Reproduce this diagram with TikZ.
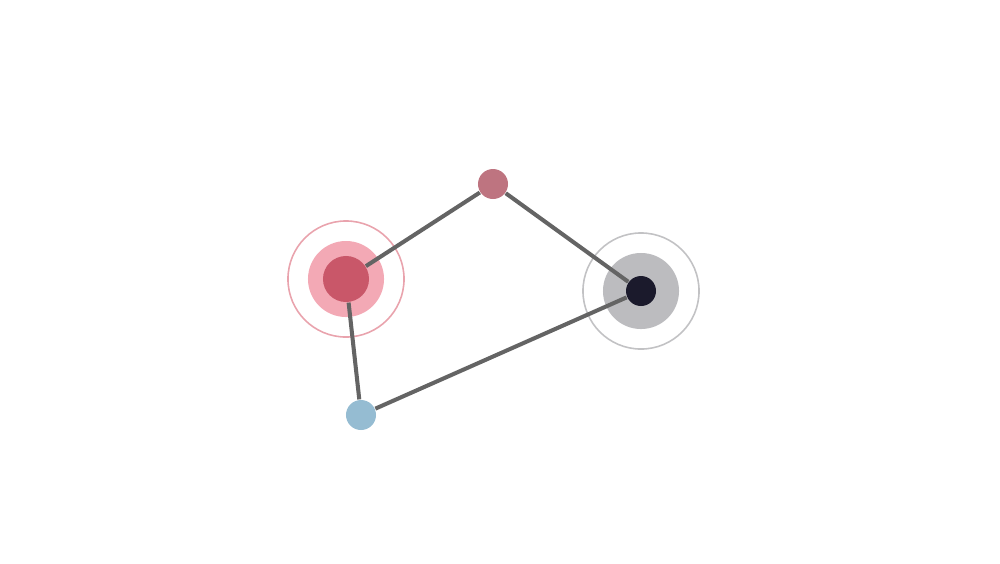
\documentclass[tikz,border=0pt]{standalone}
\usepackage{tikz}

\definecolor{linkgray}{HTML}{646464}
\definecolor{rosered}{HTML}{C95769}
\definecolor{rosehalo}{HTML}{F3A9B5}
\definecolor{rosering}{HTML}{E9A3AD}
\definecolor{mauve}{HTML}{BE7480}
\definecolor{skyblue}{HTML}{95BCD2}
\definecolor{inkdark}{HTML}{1B1A2C}
\definecolor{greyhalo}{HTML}{BCBCBF}
\definecolor{greyring}{HTML}{C2C2C4}

\begin{document}
\begin{tikzpicture}[x=0.01cm, y=-0.01cm,
    dot/.style={circle, inner sep=0pt, minimum size=#1},
    ring/.style={circle, inner sep=0pt, minimum size=1.16cm, line width=0.45pt},
    link/.style={draw=linkgray, line width=1.15pt}]
            \useasboundingbox (0, 0) rectangle (1000, 563);
            % halos and rings
            \node[ring, draw=rosering] (Rring) at (346, 279) {};
            \node[dot=0.76cm, fill=rosehalo] (Rhalo) at (346, 279) {};
            \node[ring, draw=greyring] (Dring) at (641, 291) {};
            \node[dot=0.76cm, fill=greyhalo] (Dhalo) at (641, 291) {};
            % atoms
            \node[dot=0.46cm, fill=rosered] (R) at (346, 279) {};
            \node[dot=0.30cm, fill=mauve] (M) at (493, 184) {};
            \node[dot=0.30cm, fill=skyblue] (B) at (361, 415) {};
            \node[dot=0.30cm, fill=inkdark] (D) at (641, 291) {};
            \path[link] (R) -- (M);
            \path[link] (M) -- (D);
            \path[link] (R) -- (B);
            \path[link] (B) -- (D);
        \end{tikzpicture}
\end{document}
